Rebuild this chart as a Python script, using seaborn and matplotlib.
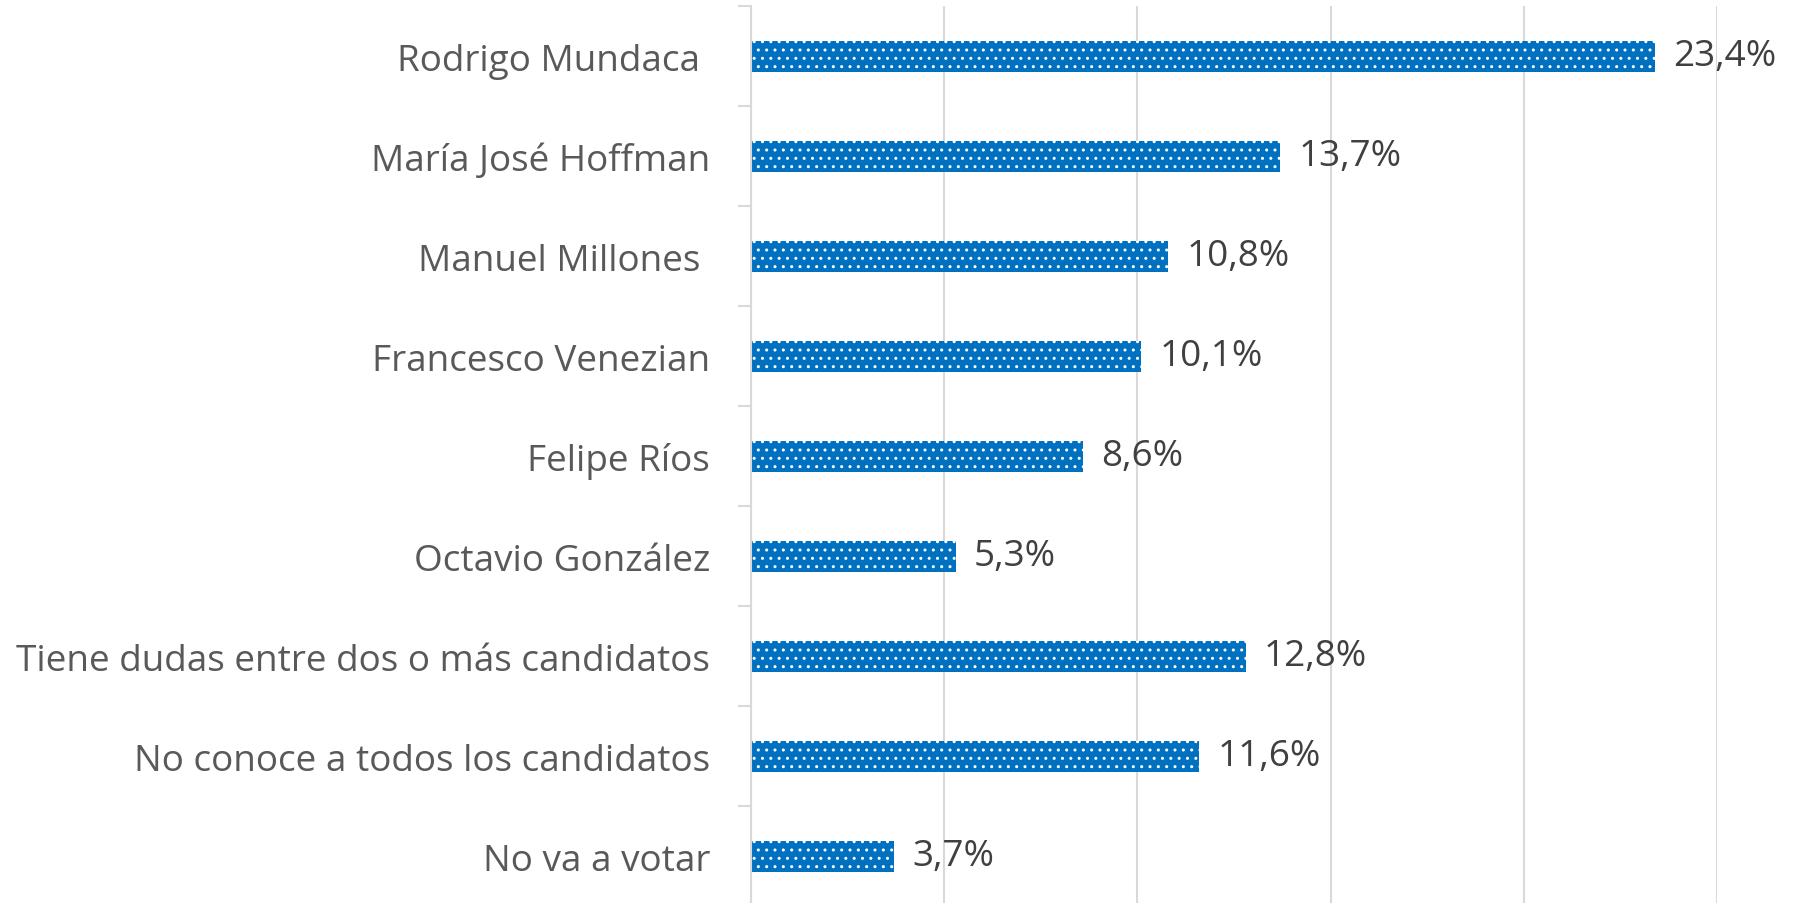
import numpy as np
import pandas as pd
import matplotlib
matplotlib.use("Agg")
import matplotlib.pyplot as plt
import seaborn as sns

categories = [
    "Rodrigo Mundaca ",
    "María José Hoffman",
    "Manuel Millones ",
    "Francesco Venezian",
    "Felipe Ríos",
    "Octavio González",
    "Tiene dudas entre dos o más candidatos",
    "No conoce a todos los candidatos",
    "No va a votar",
]
values = [23.4, 13.7, 10.8, 10.1, 8.6, 5.3, 12.8, 11.6, 3.7]

df = pd.DataFrame({"name": categories, "pct": values})

sns.set_style("white")
plt.rcParams["font.family"] = ["Open Sans", "DejaVu Sans"]
plt.rcParams["hatch.linewidth"] = 1.0

grid_c = "#d9d9d9"
bar_c = "#0070C0"

fig = plt.figure(figsize=(17.95, 9.04), dpi=100)
ax = fig.add_axes([0.4184, -0.0035, 0.5382, 0.9956])

sns.barplot(data=df, x="pct", y="name", orient="h", color=bar_c, saturation=1,
            width=0.31, ax=ax, hatch="..", edgecolor="white", linewidth=0)

ax.set_xlim(0, 25)
ax.set_ylim(8.5, -0.5)
ax.set_xticks(np.arange(0, 26, 5))
ax.set_xticklabels([])
ax.tick_params(axis="x", length=0)
ax.grid(axis="x", color=grid_c, linewidth=1.5)
ax.set_axisbelow(True)

# category labels, tick marks between categories
ax.tick_params(axis="y", which="major", length=0, pad=29.5, labelsize=26.6, labelcolor="#595959")
ax.set_yticks(np.arange(-0.5, len(categories)), minor=True)
ax.tick_params(axis="y", which="minor", length=9.4, width=1.5, color=grid_c, left=True)

for s in ["top", "right", "bottom"]:
    ax.spines[s].set_visible(False)
ax.spines["left"].set_color(grid_c)
ax.spines["left"].set_linewidth(1.5)
ax.set_xlabel("")
ax.set_ylabel("")

labels = [f"{v:.1f}%".replace(".", ",") for v in values]
ax.bar_label(ax.containers[0], labels=labels, padding=13, fontsize=26.6, color="#404040")

fig.savefig("out.png", dpi=100)
